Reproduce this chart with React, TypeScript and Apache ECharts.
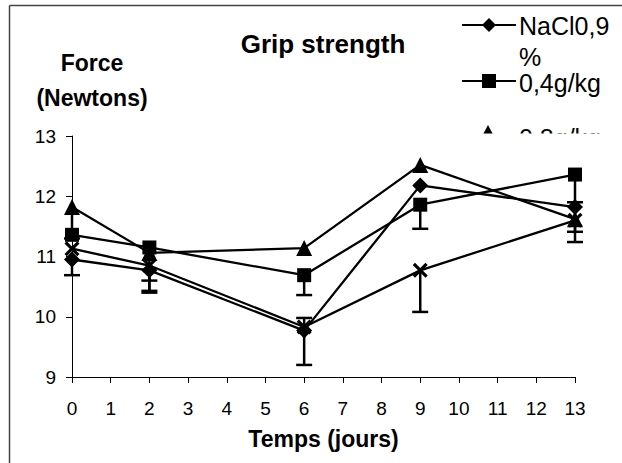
import React, { useEffect, useRef } from "react";
import * as echarts from "echarts";

const days = [0, 2, 6, 9, 13];
const seriesNames = ["NaCl0,9 %", "0,4g/kg", "0,8g/kg", "1,6g/kg"];
const naclValues = [10.95, 10.77, 9.77, 12.18, 11.82];
const dose04Values = [11.36, 11.15, 10.69, 11.86, 12.36];
const dose08Values = [11.82, 11.06, 11.14, 12.52, 11.62];
const dose16Values = [11.13, 10.85, 9.83, 10.77, 11.6];
// end value of each (one-sided) error bar, null when not drawn
const naclErrEnd = [10.69, 10.43, 9.2, null, 11.24];
const dose04ErrEnd = [null, 10.6, 10.36, 11.46, 11.9];
const dose08ErrEnd = [11.3, null, null, null, null];
const dose16ErrEnd = [null, 10.4, 9.98, 10.08, 11.41];

const FONT = "Liberation Sans, Arial, sans-serif";
const X_SYMBOL =
  "path://M0,1.5L1.5,0L5,3.5L8.5,0L10,1.5L6.5,5L10,8.5L8.5,10L5,6.5L1.5,10L0,8.5L3.5,5Z";

export default function App() {
  const ref = useRef<HTMLDivElement>(null);
  useEffect(() => {
    const chart = echarts.init(ref.current!, undefined, { renderer: "svg" });
    const allValues = [naclValues, dose04Values, dose08Values, dose16Values];
    const allErr = [naclErrEnd, dose04ErrEnd, dose08ErrEnd, dose16ErrEnd];
    const symbols = ["diamond", "rect", "triangle", X_SYMBOL];
    const sizes = [16, 14, 16, 15];
    const errData: number[][] = [];
    allValues.forEach((vals, s) => {
      vals.forEach((v, i) => {
        const e = allErr[s][i];
        if (e !== null) errData.push([days[i], v, e]);
      });
    });
    const lineSeries = allValues.map((vals, s) => ({
      type: "line",
      name: seriesNames[s],
      data: vals.map((v, i) => [days[i], v]),
      symbol: symbols[s],
      symbolSize: sizes[s],
      lineStyle: { color: "#000", width: 2.3 },
      itemStyle: { color: "#000" },
      z: 3,
    }));
    const option: any = {
      animation: false,
      backgroundColor: "#fff",
      grid: { left: 72, right: 47, top: 136, bottom: 86 },
      xAxis: {
        type: "value",
        min: 0,
        max: 13,
        interval: 1,
        axisLine: { lineStyle: { color: "#000", width: 1 } },
        axisTick: { show: true, length: 6, lineStyle: { color: "#000" } },
        axisLabel: { color: "#000", fontSize: 19, fontFamily: FONT, margin: 22 },
        splitLine: { show: false },
        name: "Temps (jours)",
        nameLocation: "middle",
        nameGap: 50,
        nameTextStyle: { color: "#000", fontSize: 23, fontWeight: "bold", fontFamily: FONT },
      },
      yAxis: {
        type: "value",
        min: 9,
        max: 13,
        interval: 1,
        axisLine: { show: true, lineStyle: { color: "#000", width: 1 } },
        axisTick: { show: true, length: 6, lineStyle: { color: "#000" } },
        axisLabel: { color: "#000", fontSize: 19, fontFamily: FONT, margin: 16 },
        splitLine: { show: false },
      },
      series: [
        {
          type: "custom",
          name: "errors",
          data: errData,
          encode: { x: 0, y: [1, 2] },
          z: 2,
          renderItem: (_params: any, api: any) => {
            const x = api.value(0);
            const p0 = api.coord([x, api.value(1)]);
            const p1 = api.coord([x, api.value(2)]);
            const hw = 8;
            const st = { stroke: "#000", lineWidth: 2.5 };
            return {
              type: "group",
              children: [
                { type: "line", shape: { x1: p0[0], y1: p0[1], x2: p1[0], y2: p1[1] }, style: st },
                { type: "line", shape: { x1: p1[0] - hw, y1: p1[1], x2: p1[0] + hw, y2: p1[1] }, style: st },
              ],
            };
          },
        },
        ...lineSeries,
      ],
      graphic: [
        { type: "line", shape: { x1: 9.5, y1: 5.5, x2: 640, y2: 5.5 }, style: { stroke: "#444", lineWidth: 1.5 } },
        { type: "line", shape: { x1: 9.5, y1: 5.5, x2: 9.5, y2: 470 }, style: { stroke: "#444", lineWidth: 1.5 } },
        {
          type: "text", x: 323, y: 44,
          style: { text: "Grip strength", fill: "#000", font: `bold 26px ${FONT}`, textAlign: "center", textVerticalAlign: "middle" },
        },
        {
          type: "text", x: 92, y: 63,
          style: { text: "Force", fill: "#000", font: `bold 23px ${FONT}`, textAlign: "center", textVerticalAlign: "middle" },
        },
        {
          type: "text", x: 92, y: 98,
          style: { text: "(Newtons)", fill: "#000", font: `bold 23px ${FONT}`, textAlign: "center", textVerticalAlign: "middle" },
        },
        // legend
        { type: "line", shape: { x1: 462, y1: 25, x2: 516, y2: 25 }, style: { stroke: "#000", lineWidth: 2 } },
        { type: "polygon", shape: { points: [[489, 18], [496, 25], [489, 32], [482, 25]] }, style: { fill: "#000" } },
        { type: "text", x: 519, y: 26, style: { text: "NaCl0,9", fill: "#000", font: `25px ${FONT}`, textVerticalAlign: "middle" } },
        { type: "text", x: 519, y: 57, style: { text: "%", fill: "#000", font: `25px ${FONT}`, textVerticalAlign: "middle" } },
        { type: "line", shape: { x1: 462, y1: 81, x2: 516, y2: 81 }, style: { stroke: "#000", lineWidth: 2 } },
        { type: "rect", shape: { x: 482, y: 74, width: 14, height: 14 }, style: { fill: "#000" } },
        { type: "text", x: 519, y: 83, style: { text: "0,4g/kg", fill: "#000", font: `25px ${FONT}`, textVerticalAlign: "middle" } },
        { type: "polygon", shape: { points: [[488, 125], [496, 140], [480, 140]] }, style: { fill: "#000" } },
        { type: "text", x: 519, y: 138, style: { text: "0,8g/kg", fill: "#000", font: `25px ${FONT}`, textVerticalAlign: "middle" } },
        { type: "rect", shape: { x: 455, y: 133.5, width: 180, height: 30 }, style: { fill: "#fff" }, z: 10 },
      ],
    };
    chart.setOption(option);
    return () => chart.dispose();
  }, []);
  return (
    <div
      ref={ref}
      style={{ position: "absolute", left: 0, top: 0, width: 622, height: 463, background: "#fff" }}
    />
  );
}
